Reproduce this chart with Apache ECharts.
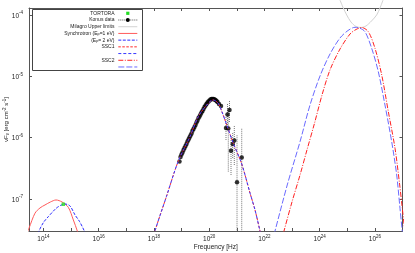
<!DOCTYPE html>
<html><head><meta charset="utf-8">
<script src="https://cdn.jsdelivr.net/npm/echarts@6/dist/echarts.min.js"></script>
<style>html,body{margin:0;padding:0;background:#fff}#c{width:415px;height:253px}</style>
</head><body><div id="c"></div>
<script>
// ---- data (frequency [Hz], nuF_nu [erg cm^-2 s^-1]) ----
const xRange = [3e13, 1e27];
const yRange = [3e-8, 1.3e-4];
const xLabelExponents = [14, 16, 18, 20, 22, 24, 26];
const yLabelExponents = [-7, -6, -5, -4];

const tortora = [[5.24e14, 8.19e-8]];

const konus = [
  [8.43e18, 4.08e-7], [9.16e18, 4.84e-7], [9.96e18, 5.31e-7], [1.08e19, 5.73e-7],
  [1.18e19, 6.30e-7], [1.28e19, 6.78e-7], [1.39e19, 7.31e-7], [1.51e19, 7.89e-7],
  [1.64e19, 8.65e-7], [1.79e19, 9.33e-7], [1.94e19, 1.005e-6], [2.11e19, 1.08e-6],
  [2.30e19, 1.17e-6], [2.49e19, 1.29e-6], [2.71e19, 1.38e-6], [2.94e19, 1.49e-6],
  [3.21e19, 1.61e-6], [3.48e19, 1.77e-6], [3.78e19, 1.91e-6], [4.11e19, 2.09e-6],
  [4.47e19, 2.21e-6], [4.86e19, 2.39e-6], [5.28e19, 2.57e-6], [5.74e19, 2.72e-6],
  [6.24e19, 2.93e-6], [6.78e19, 3.16e-6], [7.38e19, 3.34e-6], [8.02e19, 3.54e-6],
  [8.71e19, 3.74e-6], [9.46e19, 3.88e-6], [1.03e20, 4.04e-6], [1.12e20, 4.19e-6],
  [1.22e20, 4.27e-6], [1.32e20, 4.27e-6], [1.44e20, 4.27e-6], [1.56e20, 4.19e-6],
  [1.70e20, 4.11e-6], [1.85e20, 3.96e-6], [2.00e20, 3.81e-6], [2.27e20, 3.54e-6],
  [2.68e20, 3.28e-6], [5.45e20, 2.82e-6], [4.61e20, 2.39e-6], [4.07e20, 1.44e-6],
  [4.93e20, 1.41e-6], [8.13e20, 8.99e-7], [7.11e20, 7.89e-7], [6.18e20, 6.12e-7],
  [1.51e21, 4.74e-7], [1.02e21, 1.87e-7]
];
// [frequency, lower, upper]
const konusErr = [
  [5.45e20, 1.80e-6, 4.11e-6], [4.61e20, 1.61e-6, 3.54e-6],
  [4.07e20, 9.16e-7, 2.25e-6], [4.93e20, 2.79e-7, 2.82e-6],
  [8.13e20, 3.58e-7, 1.61e-6], [7.11e20, 4.66e-7, 1.19e-6],
  [6.18e20, 2.46e-7, 1.10e-6], [1.51e21, 1.0e-8, 1.44e-6],
  [1.02e21, 1.0e-8, 1.10e-6]
];

const milagro = [
  [5.46e24, 1.75e-4], [7.19e24, 1.30e-4], [9.55e24, 1.00e-4], [1.36e25, 7.69e-5],
  [2.07e25, 6.49e-5], [3.14e25, 6.25e-5], [4.76e25, 6.62e-5], [7.55e25, 7.98e-5],
  [1.16e26, 1.00e-4], [1.53e26, 1.30e-4], [1.97e26, 1.75e-4]
];

const syncEp1 = [
  [2.3e13, 2.5e-8], [3.0e13, 3.33e-8], [4.94e13, 5.85e-8], [7.50e13, 7.13e-8],
  [1.14e14, 7.98e-8], [1.80e14, 8.93e-8], [2.85e14, 9.62e-8], [4.70e14, 8.93e-8],
  [7.94e14, 7.31e-8], [1.21e15, 4.54e-8], [1.68e15, 3.0e-8], [1.94e15, 2.31e-8]
];
const syncEp2 = [
  [5.85e13, 2.31e-8], [6.90e13, 3.0e-8], [1.00e14, 4.13e-8], [1.50e14, 5.14e-8],
  [2.85e14, 7.0e-8], [4.14e14, 7.83e-8], [6.03e14, 8.28e-8], [9.14e14, 7.69e-8],
  [1.39e15, 5.48e-8], [2.02e15, 4.30e-8], [3.01e15, 3.0e-8], [3.47e15, 2.40e-8]
];

const ssc1Ep1 = [
  [7.21e17, 1.47e-8], [1.09e18, 3.0e-8], [2.85e18, 1.10e-7], [7.43e18, 4.01e-7],
  [2.02e19, 1.04e-6], [4.04e19, 2.20e-6], [8.15e19, 3.40e-6], [1.38e20, 4.11e-6],
  [2.09e20, 3.67e-6], [2.92e20, 2.62e-6], [4.32e20, 1.61e-6], [7.48e20, 8.09e-7],
  [1.51e21, 3.72e-7], [3.01e21, 1.25e-7], [4.57e21, 6.62e-8], [6.92e21, 3.0e-8],
  [8.89e21, 1.78e-8]
];
const ssc1Ep2 = [
  [7.21e17, 1.47e-8], [1.09e18, 3.0e-8], [2.85e18, 1.10e-7], [7.43e18, 4.01e-7],
  [2.02e19, 1.04e-6], [4.04e19, 2.20e-6], [8.15e19, 3.40e-6], [1.38e20, 4.11e-6],
  [2.09e20, 3.67e-6], [2.92e20, 2.62e-6], [4.32e20, 1.61e-6], [7.48e20, 8.09e-7],
  [1.51e21, 3.72e-7], [3.01e21, 1.25e-7], [4.57e21, 6.62e-8], [6.92e21, 3.0e-8],
  [8.89e21, 1.78e-8]
];

const ssc2Ep1 = [
  [3.37e22, 1.47e-8], [5.12e22, 3.0e-8], [9.98e22, 8.93e-8], [1.95e23, 2.46e-7],
  [3.48e23, 6.30e-7], [6.41e23, 1.67e-6], [1.22e24, 4.96e-6], [2.37e24, 1.27e-5],
  [5.48e24, 2.79e-5], [1.26e25, 4.90e-5], [2.08e25, 5.80e-5], [3.29e25, 6.25e-5],
  [5.78e25, 5.34e-5], [1.01e26, 2.86e-5], [1.77e26, 1.05e-5], [3.07e26, 2.65e-6],
  [5.36e26, 6.70e-7], [7.67e26, 1.91e-7], [9.84e26, 7.05e-8], [1.23e27, 2.78e-8]
];
const ssc2Ep2 = [
  [1.60e22, 1.47e-8], [2.42e22, 3.0e-8], [6.86e22, 1.75e-7], [1.95e23, 8.59e-7],
  [4.48e23, 3.40e-6], [1.03e24, 1.01e-5], [2.37e24, 2.31e-5], [5.48e24, 4.22e-5],
  [1.06e25, 5.58e-5], [1.91e25, 6.30e-5], [2.89e25, 6.07e-5], [4.39e25, 5.34e-5],
  [7.67e25, 2.86e-5], [1.33e26, 1.19e-5], [2.32e26, 3.40e-6], [4.06e26, 8.59e-7],
  [6.16e26, 2.46e-7], [8.11e26, 7.05e-8], [9.84e26, 2.92e-8], [1.13e27, 1.47e-8]
];

const legendLabels = ['TORTORA', 'Konus data', 'Milagro Upper limits',
  '{n|Synchrotron (E}{s|p}{n|=1 eV)}', '{n|(E}{s|p}{n|= 2 eV)}', 'SSC1', '', 'SSC2', ''];

// ---- styles ----
const FONT = '"Liberation Sans", Arial, sans-serif';
const TXT = '#222';
const AX = '#555';
const lineStyles = {
  milagro: {color: '#d2d2d2', width: 1, type: 'solid'},
  syncEp1: {color: '#ff5a5a', width: 1, type: 'solid'},
  syncEp2: {color: '#2a2aff', width: 1, type: [3, 1.5]},
  ssc1Ep1: {color: '#ff2a2a', width: 1, type: [2.5, 1.5]},
  ssc1Ep2: {color: '#3a3aff', width: 1, type: [3, 2]},
  ssc2Ep1: {color: '#ff2020', width: 1, type: [5, 1.5, 1, 1.5]},
  ssc2Ep2: {color: '#6a6aff', width: 1, type: [6, 2]}
};

const labelRich = {
  b: {fontSize: 6.5, fontFamily: FONT, color: TXT, lineHeight: 9, verticalAlign: 'bottom'},
  s: {fontSize: 4.5, fontFamily: FONT, color: TXT, lineHeight: 5, verticalAlign: 'top'}
};
function expFromExponent(list) {
  return function (v) {
    const e = Math.round(v);
    if (Math.abs(v - e) > 1e-6 || list.indexOf(e) < 0) return '';
    return '{b|10}{s|' + e + '}';
  };
}
function expFromValue(list) {
  return function (v) {
    const l = Math.log10(v);
    const e = Math.round(l);
    if (Math.abs(l - e) > 1e-6 || list.indexOf(e) < 0) return '';
    return '{b|10}{s|' + e + '}';
  };
}
const axLine = {show: true, onZero: false, lineStyle: {color: AX, width: 1}};
const axTick = {show: true, inside: true, length: 3, lineStyle: {color: AX, width: 1}};

// tick axes for frequency: linear in decades, same span as the log data axis
const xExpMin = Math.log10(xRange[0]);
const xExpMax = Math.log10(xRange[1]);

function lineSeries(name, data, st) {
  return {
    name: name, type: 'line', data: data, symbol: 'none', smooth: 0.3,
    clip: true, z: 4,
    lineStyle: {color: st.color, width: st.width, type: st.type}
  };
}

// ---- legend drawn as graphic elements ----
const legendGraphic = [{
  type: 'rect', z: 100,
  shape: {x: 32.5, y: 9.5, width: 110, height: 61},
  style: {fill: '#fff', stroke: '#444', lineWidth: 1}
}];
const sampleDefs = [
  {kind: 'point', color: '#22dd22'},
  {kind: 'konus'},
  {kind: 'line', st: lineStyles.milagro},
  {kind: 'line', st: lineStyles.syncEp1},
  {kind: 'line', st: lineStyles.syncEp2},
  {kind: 'line', st: lineStyles.ssc1Ep1},
  {kind: 'line', st: lineStyles.ssc1Ep2},
  {kind: 'line', st: lineStyles.ssc2Ep1},
  {kind: 'line', st: lineStyles.ssc2Ep2}
];
legendLabels.forEach(function (lab, i) {
  const y = 13.3 + i * 6.71;
  if (lab) {
    legendGraphic.push({
      type: 'text', z: 101, x: 114.5, y: y,
      style: {
        text: lab, align: 'right', verticalAlign: 'middle',
        fontSize: 5, fontFamily: FONT, fill: TXT,
        rich: {
          n: {fontSize: 5, fontFamily: FONT, fill: TXT, lineHeight: 6, verticalAlign: 'bottom'},
          s: {fontSize: 3.8, fontFamily: FONT, fill: TXT, lineHeight: 4, verticalAlign: 'bottom'}
        }
      }
    });
  }
  const d = sampleDefs[i];
  if (d.kind === 'point') {
    legendGraphic.push({type: 'rect', z: 101, shape: {x: 126.2, y: y - 1.6, width: 3.2, height: 3.2}, style: {fill: d.color}});
  } else if (d.kind === 'konus') {
    legendGraphic.push({type: 'line', z: 101, shape: {x1: 118.3, y1: y, x2: 137.3, y2: y}, style: {stroke: '#555', lineWidth: 1, lineDash: [1, 1]}});
    legendGraphic.push({type: 'circle', z: 102, shape: {cx: 127.8, cy: y, r: 2}, style: {fill: '#000'}});
  } else {
    legendGraphic.push({type: 'line', z: 101, shape: {x1: 118.3, y1: y, x2: 137.3, y2: y},
      style: {stroke: d.st.color, lineWidth: 1, lineDash: Array.isArray(d.st.type) ? d.st.type : null}});
  }
});

const chart = echarts.init(document.getElementById('c'), null, {renderer: 'canvas'});
chart.setOption({
  animation: false,
  backgroundColor: '#fff',
  grid: {left: 29, top: 8, right: 12.5, bottom: 22, containLabel: false, outerBoundsMode: 'none'},
  xAxis: [
    // data axis (log scale), drawn invisibly
    {type: 'log', logBase: 10, min: xRange[0], max: xRange[1], position: 'bottom', show: false},
    // tick/label axis, bottom
    {
      type: 'value', min: xExpMin, max: xExpMax, splitNumber: 13, position: 'bottom',
      axisLine: axLine, axisTick: axTick, splitLine: {show: false},
      axisLabel: {formatter: expFromExponent(xLabelExponents), rich: labelRich, margin: 3, hideOverlap: false},
      name: 'Frequency [Hz]', nameLocation: 'middle', nameGap: 12.5, nameMoveOverlap: false,
      nameTextStyle: {fontSize: 6.5, fontFamily: FONT, color: TXT}
    },
    // mirrored ticks, top
    {
      type: 'value', min: xExpMin, max: xExpMax, splitNumber: 13, position: 'top',
      axisLine: axLine, axisTick: axTick, splitLine: {show: false}, axisLabel: {show: false}
    }
  ],
  yAxis: [
    {
      type: 'log', logBase: 10, position: 'left', min: yRange[0], max: yRange[1], splitNumber: 4,
      axisLine: axLine, axisTick: axTick, splitLine: {show: false},
      axisLabel: {formatter: expFromValue(yLabelExponents), rich: labelRich, margin: 6, hideOverlap: false},
      name: '{a|νF}{u|ν}{a| [erg cm}{p|-2}{a| s}{p|-1}{a|]}', nameLocation: 'middle', nameGap: 19, nameRotate: 90, nameMoveOverlap: false,
      nameTextStyle: {
        fontSize: 6, fontFamily: FONT, color: TXT,
        rich: {
          a: {fontSize: 6, fontFamily: FONT, color: TXT, lineHeight: 8, verticalAlign: 'middle'},
          u: {fontSize: 4.5, fontFamily: FONT, color: TXT, lineHeight: 5, verticalAlign: 'bottom'},
          p: {fontSize: 4.5, fontFamily: FONT, color: TXT, lineHeight: 5, verticalAlign: 'top'}
        }
      }
    },
    {
      type: 'log', logBase: 10, position: 'right', min: yRange[0], max: yRange[1], splitNumber: 4,
      axisLine: axLine, axisTick: axTick, splitLine: {show: false}, axisLabel: {show: false}
    }
  ],
  graphic: legendGraphic,
  series: [
    {
      name: 'Konus errors', type: 'custom', clip: true, z: 2,
      data: konusErr, encode: {x: 0, y: [1, 2]},
      renderItem: function (params, api) {
        const x = api.value(0);
        const p1 = api.coord([x, api.value(1)]);
        const p2 = api.coord([x, api.value(2)]);
        return {type: 'line', shape: {x1: p1[0], y1: p1[1], x2: p2[0], y2: p2[1]},
          style: {stroke: '#777', lineWidth: 1, lineDash: [1, 1]}};
      }
    },
    {name: 'Konus data', type: 'scatter', data: konus, symbol: 'circle', symbolSize: 4.5, z: 3,
      itemStyle: {color: '#000'}, clip: true},
    Object.assign(lineSeries('Milagro Upper limits', milagro, lineStyles.milagro), {clip: false, z: 3}),
    lineSeries('Synchrotron (Ep=1 eV)', syncEp1, lineStyles.syncEp1),
    lineSeries('(Ep=2 eV)', syncEp2, lineStyles.syncEp2),
    lineSeries('SSC1 (Ep=1 eV)', ssc1Ep1, lineStyles.ssc1Ep1),
    lineSeries('SSC1 (Ep=2 eV)', ssc1Ep2, lineStyles.ssc1Ep2),
    lineSeries('SSC2 (Ep=1 eV)', ssc2Ep1, lineStyles.ssc2Ep1),
    lineSeries('SSC2 (Ep=2 eV)', ssc2Ep2, lineStyles.ssc2Ep2),
    {name: 'TORTORA', type: 'scatter', data: tortora, symbol: 'rect', symbolSize: 3.5, z: 6,
      itemStyle: {color: '#22dd22'}}
  ]
});
</script></body></html>
